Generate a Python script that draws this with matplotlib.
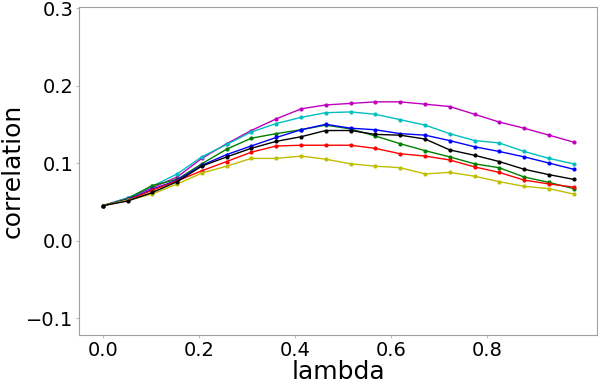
import matplotlib
matplotlib.use('Agg')
import matplotlib.pyplot as plt

# lambda values (20 steps)
lam = [0.000, 0.052, 0.103, 0.155, 0.206, 0.258, 0.309, 0.361, 0.413, 0.464,
       0.516, 0.567, 0.619, 0.671, 0.722, 0.774, 0.825, 0.877, 0.929, 0.980]

corr_m = [0.045, 0.055, 0.068, 0.082, 0.106, 0.125, 0.142, 0.157, 0.170, 0.175,
          0.177, 0.179, 0.179, 0.176, 0.173, 0.163, 0.153, 0.145, 0.136, 0.127]
corr_c = [0.045, 0.055, 0.070, 0.086, 0.108, 0.124, 0.140, 0.151, 0.159, 0.165,
          0.166, 0.163, 0.156, 0.149, 0.138, 0.129, 0.126, 0.115, 0.106, 0.099]
corr_g = [0.045, 0.054, 0.071, 0.079, 0.099, 0.118, 0.132, 0.138, 0.143, 0.149,
          0.144, 0.135, 0.125, 0.116, 0.108, 0.099, 0.094, 0.082, 0.075, 0.067]
corr_b = [0.045, 0.053, 0.066, 0.078, 0.097, 0.111, 0.122, 0.133, 0.143, 0.150,
          0.145, 0.143, 0.138, 0.136, 0.129, 0.121, 0.115, 0.108, 0.100, 0.092]
corr_r = [0.045, 0.052, 0.065, 0.077, 0.090, 0.102, 0.114, 0.122, 0.123, 0.123,
          0.123, 0.119, 0.112, 0.109, 0.104, 0.095, 0.088, 0.078, 0.073, 0.069]
corr_y = [0.045, 0.052, 0.060, 0.073, 0.087, 0.096, 0.106, 0.106, 0.109, 0.105,
          0.099, 0.096, 0.094, 0.086, 0.088, 0.083, 0.076, 0.070, 0.067, 0.060]
corr_k = [0.045, 0.051, 0.062, 0.076, 0.096, 0.108, 0.119, 0.128, 0.134, 0.142,
          0.142, 0.137, 0.136, 0.131, 0.117, 0.110, 0.102, 0.092, 0.085, 0.079]

series = [(corr_m, 'm'), (corr_c, 'c'), (corr_g, 'g'), (corr_b, 'b'),
          (corr_r, 'r'), (corr_y, 'y'), (corr_k, 'k')]

fig = plt.figure(figsize=(5.98, 3.86), dpi=100)
ax = fig.add_axes([0.1325, 0.132, 0.866, 0.849])

for vals, col in series:
    ax.plot(lam, vals, color=col, marker='.', markersize=4, linewidth=1)

ax.set_ylim(-0.122, 0.301)
ax.set_yticks([-0.1, 0.0, 0.1, 0.2, 0.3])
ax.set_xticks([0.0, 0.2, 0.4, 0.6, 0.8])
ax.set_xlabel('lambda', fontsize=18, labelpad=0)
ax.set_ylabel('correlation', fontsize=18, labelpad=1)
ax.tick_params(labelsize=14, length=2, color='#bbbbbb', pad=2)
for sp in ax.spines.values():
    sp.set_color('#a0a0a0')

fig.savefig('out.png', dpi=100)
